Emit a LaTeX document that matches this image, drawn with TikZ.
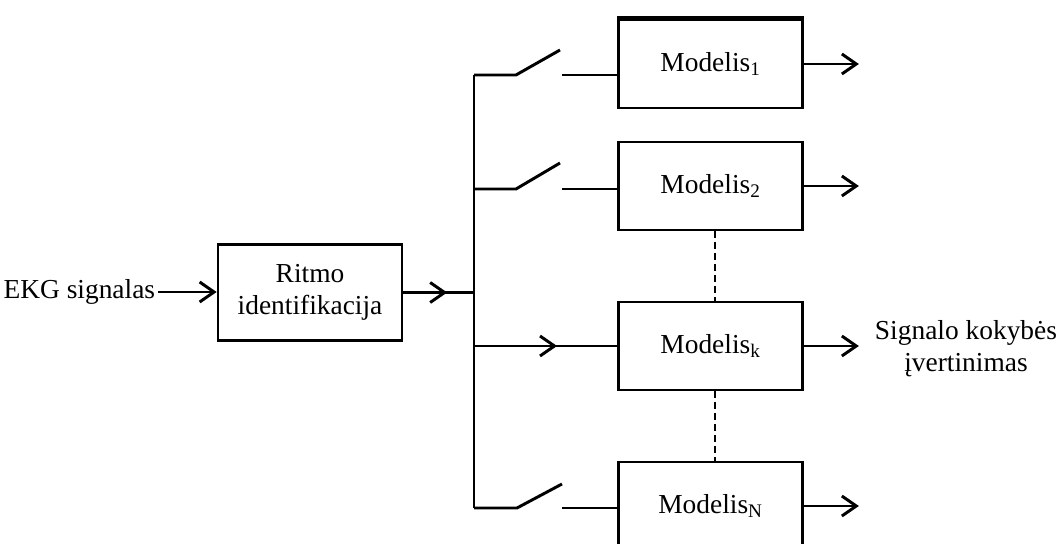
\documentclass[tikz,border=0pt]{standalone}
\usepackage{fontspec}
\setmainfont{Liberation Serif}
\usetikzlibrary{arrows.meta,calc,decorations.markings}

\begin{document}
\begin{tikzpicture}[x=0.025cm,y=-0.025cm,line width=2.1pt,
	>={Straight Barb[length=3.6mm,width=5mm]},
	font=\fontsize{19.5}{23}\selectfont,
	block/.style={draw, line width=1.9pt, minimum width=4.6cm, minimum height=2.2cm, align=center},
	midarrow/.style={decoration={markings, mark=at position #1 with {\arrow{>}}}, postaction={decorate}}]

	% Fix the page size
	\useasboundingbox (0,0) rectangle (1060,544);

	% Draw the input signal and the rhythm identification block
	\node[anchor=east, inner sep=1pt] (ekg) at (158,292) {EKG signalas};
	\node[block, minimum height=2.4cm] (ritmo) at (310,292.5) {Ritmo\\identifikacija};
	\draw[->] (ekg.east) -- (ekg.east -| ritmo.west);

	% Draw the model blocks
	\node[block] (m1) at (710.5,64) {Modelis\textsubscript{1}};
	\node[block] (m2) at (710.5,186) {Modelis\textsubscript{2}};
	\node[block] (mk) at (710.5,346) {Modelis\textsubscript{k}};
	\node[block] (mN) at (710.5,506) {Modelis\textsubscript{N}};
	\draw[line width=3.5pt] (m1.north west) -- (m1.north east);

	% Draw the bus from the rhythm block to the branches
	\coordinate (busTop) at (474,75);
	\coordinate (busBot) at (474,508);
	\draw (busTop) -- (busBot);
	\draw[midarrow=0.62] (ritmo.east) -- (ritmo.east -| busTop);

	% Draw the open switches in front of models 1, 2 and N
	\coordinate (s1) at (516,75);
	\coordinate (c1) at (562,75);
	\draw (busTop) -- (s1) -- ++(44,-25);
	\draw (c1) -- (c1 -| m1.west);

	\coordinate (b2) at (474,189);
	\coordinate (s2) at (516,189);
	\coordinate (c2) at (562,189);
	\draw (b2) -- (s2) -- ++(44,-26);
	\draw (c2) -- (c2 -| m2.west);

	\coordinate (s3) at (517,508);
	\coordinate (c3) at (562,508);
	\draw (busBot) -- (s3) -- ++(45,-24);
	\draw (c3) -- (c3 -| mN.west);

	% Draw the closed branch to model k
	\coordinate (bk) at (474,346);
	\draw[midarrow=0.58] (bk) -- (bk -| mk.west);

	% Draw the dashed links between the models
	\draw[dash pattern=on 5pt off 2.8pt] ($(m2.south)+(4.5,0)$) -- ($(mk.north)+(4.5,0)$);
	\draw[dash pattern=on 5pt off 2.8pt] ($(mk.south)+(4.5,0)$) -- ($(mN.north)+(4.5,0)$);

	% Draw the outputs and the output label
	\draw[->] (m1.east) -- ++(55,0);
	\draw[->] (m2.east) -- ++(55,0);
	\draw[->] (mk.east) -- ++(55,0);
	\draw[->] (mN.east) -- ++(55,0);
	\node[align=center, inner sep=1pt] (sig) at (966,349) {Signalo kokybės\\įvertinimas};

\end{tikzpicture}
\end{document}
